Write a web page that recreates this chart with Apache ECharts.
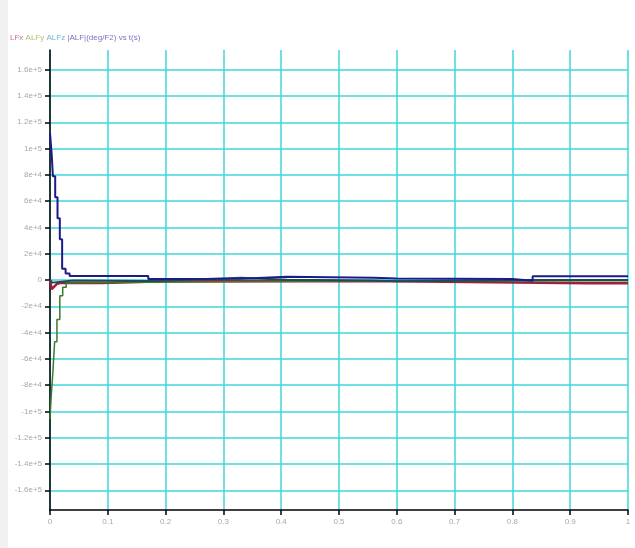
<!DOCTYPE html>
<html>
<head>
<meta charset="utf-8">
<script src="https://cdn.jsdelivr.net/npm/echarts@6/dist/echarts.min.js"></script>
<style>html,body{margin:0;padding:0;background:#fff}#c{width:635px;height:548px}</style>
</head>
<body>
<div id="c"></div>
<script>
// ---- data (t in s, values in deg/F2) ----
const xTicks = [0, 0.1, 0.2, 0.3, 0.4, 0.5, 0.6, 0.7, 0.8, 0.9, 1];
const yTicks = [-160000,-140000,-120000,-100000,-80000,-60000,-40000,-20000,0,20000,40000,60000,80000,100000,120000,140000,160000];

const tAbs = [0, 0.003, 0.005, 0.009, 0.013, 0.017, 0.021, 0.027, 0.034, 0.17, 0.21, 0.33, 0.41, 0.56, 0.6, 0.8, 0.835, 1];
const vAbs = [112000, 95000, 79000, 63000, 47000, 31000, 8500, 5000, 3000, 800, 1000, 2500, 1800, 1200, 800, -600, 2800, 2800];

const tY = [0, 0.002, 0.005, 0.008, 0.012, 0.017, 0.022, 0.028, 0.035, 0.5, 1];
const vY = [-106000, -89000, -70000, -47000, -30000, -12000, -5500, -2000, -800, -600, -600];

const tX = [0, 0.003, 0.012, 0.018, 0.09, 0.2, 0.4, 0.6, 0.93, 1];
const vX = [0, -7000, -3000, -2200, -2200, -900, -700, -900, -2500, -2500];

const tZ = [0, 0.004, 0.04, 0.17, 0.21, 0.33, 0.41, 0.56, 0.6, 0.8, 0.835, 1];
const vZ = [0, -2000, -300, -800, -200, 1800, 200, -300, -900, -200, 0, 0];

const zip = (t, v) => t.map((x, i) => [x, v[i]]);

const chart = echarts.init(document.getElementById('c'), null, {renderer: 'canvas'});
const lblStyle = {color: '#a8a8a8', fontSize: 8, fontFamily: 'Liberation Sans, Arial, sans-serif'};
chart.setOption({
  animation: false,
  backgroundColor: '#ffffff',
  title: {
    left: 5, top: 29,
    text: '{a|LFx} {b|ALFy} {c|ALFz} {d|\u007CALF\u007C(deg/F2) vs t(s)}',
    textStyle: {
      fontSize: 8, fontWeight: 'normal', fontFamily: 'Liberation Sans, Arial, sans-serif',
      rich: {
        a: {color: '#d07090', fontSize: 8},
        b: {color: '#b0c070', fontSize: 8},
        c: {color: '#70b8d0', fontSize: 8},
        d: {color: '#8070c0', fontSize: 8}
      }
    }
  },
  graphic: [{type: 'rect', left: 0, top: 0, shape: {width: 8, height: 548}, style: {fill: '#f1f1f1'}, silent: true}],
  grid: {left: 50, right: 7, top: 50, bottom: 38, containLabel: false, outerBoundsMode: 'none'},
  xAxis: {
    type: 'value', min: 0, max: 1, interval: 0.1,
    axisLine: {show: true, onZero: false, lineStyle: {color: '#000', width: 1.5}},
    axisTick: {show: true, length: 5, lineStyle: {color: '#000', width: 1.5}},
    axisLabel: Object.assign({margin: 8, formatter: v => String(Math.round(v * 10) / 10)}, lblStyle),
    splitLine: {show: true, lineStyle: {color: '#3fd6dc', width: 1.5}}
  },
  yAxis: {
    type: 'value', min: -175000, max: 175000, splitNumber: 18,
    axisLine: {show: true, onZero: false, lineStyle: {color: '#000', width: 1.5}},
    axisTick: {show: true, length: 5, lineStyle: {color: '#000', width: 1.5}},
    axisLabel: Object.assign({margin: 8, showMinLabel: false, showMaxLabel: false,
      formatter: v => {
        if (yTicks.indexOf(v) < 0) return '';
        return v === 0 ? '0' : v.toExponential();
      }}, lblStyle),
    splitLine: {show: true, showMinLine: false, showMaxLine: false, lineStyle: {color: '#3fd6dc', width: 1.5}}
  },
  series: [
    {name: 'ALFx', type: 'line', data: zip(tX, vX), showSymbol: false, lineStyle: {color: '#a0203a', width: 2.5}, z: 3},
    {name: 'ALFy', type: 'line', step: 'end', data: zip(tY, vY), showSymbol: false, lineStyle: {color: '#3a7a2a', width: 1.5}, z: 4},
    {name: 'ALFz', type: 'line', data: zip(tZ, vZ), showSymbol: false, lineStyle: {color: '#1e4a5a', width: 2}, z: 5},
    {name: '|ALF|', type: 'line', step: 'end', data: zip(tAbs, vAbs), showSymbol: false, lineStyle: {color: '#1c1c88', width: 2}, z: 6}
  ]
});
</script>
</body>
</html>
